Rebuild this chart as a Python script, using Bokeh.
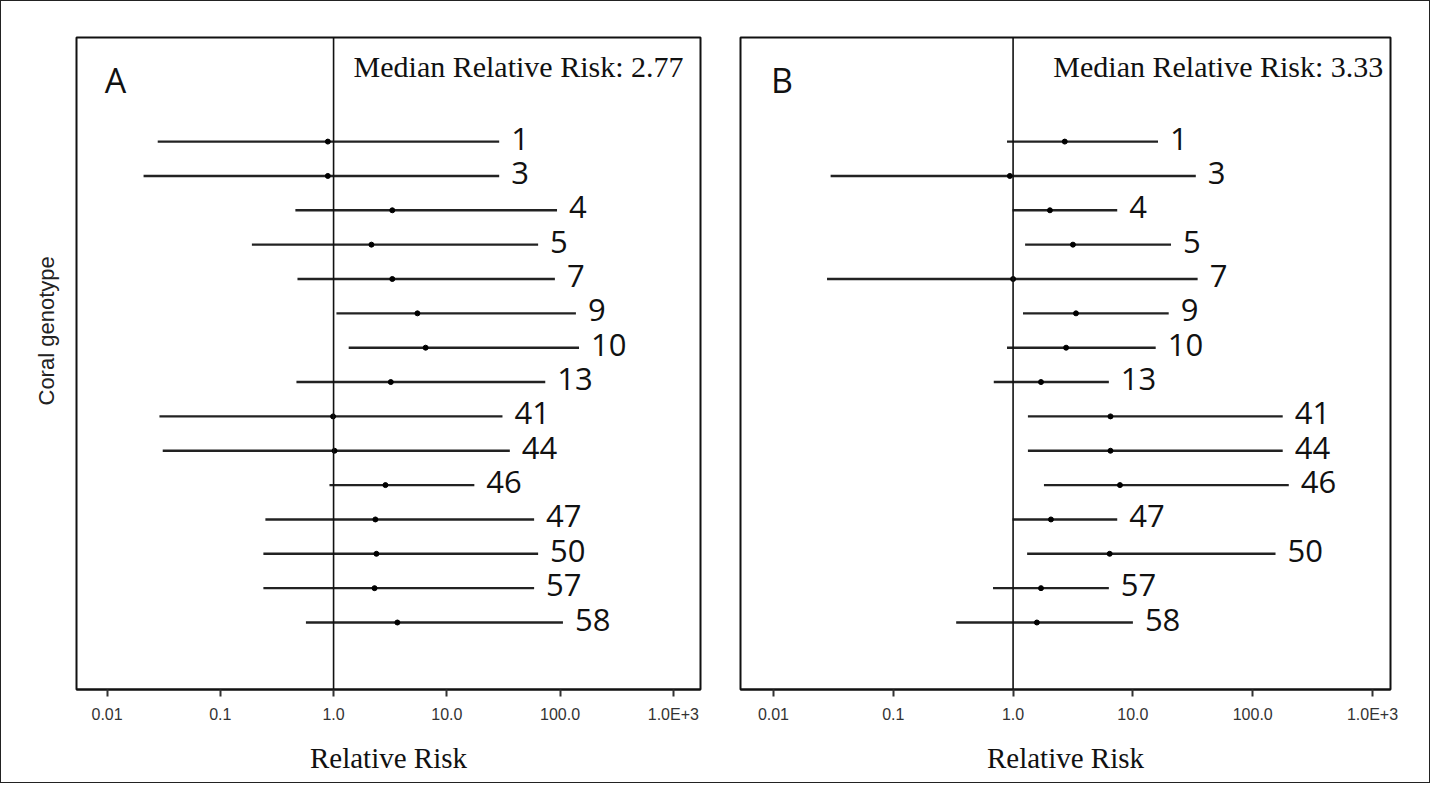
import math
from bokeh.plotting import figure
from bokeh.layouts import row
from bokeh.models import Range1d, FixedTicker, Span, ColumnDataSource, Label, Title
from bokeh.core.properties import value
from bokeh.embed import file_html
from bokeh.resources import INLINE

# ---------------- data ----------------
genotypes = ["1", "3", "4", "5", "7", "9", "10", "13", "41", "44", "46", "47", "50", "57", "58"]

a_rr = [0.89, 0.89, 3.3, 2.16, 3.3, 5.5, 6.5, 3.2, 0.99, 1.02, 2.87, 2.34, 2.39, 2.3, 3.66]
a_lo = [0.028, 0.021, 0.46, 0.19, 0.48, 1.06, 1.36, 0.47, 0.029, 0.031, 0.92, 0.25, 0.24, 0.24, 0.57]
a_hi = [29, 29, 94, 64, 90, 138, 147, 74, 31, 36, 17.5, 59, 64, 59, 106]

b_rr = [2.7, 0.94, 2.03, 3.16, 1.0, 3.35, 2.77, 1.71, 6.5, 6.5, 7.8, 2.07, 6.4, 1.71, 1.58]
b_lo = [0.89, 0.030, 0.99, 1.26, 0.028, 1.21, 0.89, 0.69, 1.33, 1.33, 1.81, 0.99, 1.31, 0.68, 0.335]
b_hi = [16.2, 33.5, 7.4, 20.8, 34.7, 19.9, 15.5, 6.3, 178, 178, 200, 7.4, 155, 6.3, 10]

tick_values = [0.01, 0.1, 1, 10, 100, 1000]
tick_labels = ["0.01", "0.1", "1.0", "10.0", "100.0", "1.0E+3"]

panel_letters = ["A", "B"]
median_rr = ["2.77", "3.33"]
y_title = "Coral genotype"
x_title = "Relative Risk"


def make_panel(letter, median, rr, lo, hi, x_start, x_end, width, mb_left, mb_right, show_ylabel):
    p = figure(
        width=width, height=781,
        x_axis_type="log",
        x_range=Range1d(x_start, x_end),
        y_range=Range1d(15.95, -3.03),
        output_backend="svg", toolbar_location=None,
        min_border_left=mb_left, min_border_right=mb_right,
        min_border_top=36, min_border_bottom=93,
    )
    p.background_fill_color = "white"
    p.border_fill_color = "white"
    p.outline_line_color = "#111111"
    p.outline_line_width = 2
    p.xgrid.visible = False
    p.ygrid.visible = False

    ys = list(range(len(genotypes)))
    src = ColumnDataSource(dict(y=ys, rr=rr, lo=lo, hi=hi, lab=genotypes))

    p.add_layout(Span(location=1, dimension="height", line_color="#111111", line_width=1.6))

    p.segment(x0="lo", y0="y", x1="hi", y1="y", source=src, line_color="#222222", line_width=2.4)
    p.scatter(x="rr", y="y", source=src, size=5, color="#000000")
    p.text(x="hi", y="y", text="lab", source=src, x_offset=12, y_offset=-3,
           text_font=value("Open Sans"), text_font_size="31px",
           text_baseline="middle", text_align="left", text_color="#111111")

    # x axis
    ax = p.xaxis[0]
    ax.ticker = FixedTicker(ticks=tick_values)
    ax.major_label_overrides = {v: l for v, l in zip(tick_values, tick_labels)}
    ax.minor_tick_line_color = None
    ax.major_tick_out = 7
    ax.major_tick_in = 0
    ax.major_tick_line_width = 2
    ax.major_tick_line_color = "#333333"
    ax.axis_line_width = 2
    ax.axis_line_color = "#111111"
    ax.major_label_text_font = "Liberation Sans"
    ax.major_label_text_font_size = "16px"
    ax.major_label_text_color = "#333333"
    ax.major_label_standoff = 9
    ax.axis_label = x_title
    ax.axis_label_text_font = "Liberation Serif"
    ax.axis_label_text_font_size = "29px"
    ax.axis_label_text_font_style = "normal"
    ax.axis_label_text_color = "#111111"
    ax.axis_label_standoff = 16

    p.yaxis.visible = False

    if show_ylabel:
        p.add_layout(Title(text=y_title, align="left", offset=284, standoff=36,
                           text_font="Liberation Sans", text_font_size="22px",
                           text_font_style="normal", text_color="#222222"), "left")

    # panel letter and median text
    p.add_layout(Label(x=10 ** -2.02, y=-1.78, text=letter, text_font="Open Sans",
                       text_font_size="34px", text_baseline="middle", text_align="left",
                       text_color="#111111"))
    p.add_layout(Label(x=10 ** 3.09, y=-2.2, text="Median Relative Risk: " + median,
                       text_font="Liberation Serif", text_font_size="30px",
                       text_baseline="middle", text_align="right", text_color="#111111"))
    return p


pa = make_panel(panel_letters[0], median_rr[0], a_rr, a_lo, a_hi,
                10 ** -2.27, 10 ** 3.24, 719, 75, 20, True)
pb = make_panel(panel_letters[1], median_rr[1], b_rr, b_lo, b_hi,
                10 ** -2.275, 10 ** 3.15, 709, 20, 39, False)

layout = row(pa, pb, styles={"border": "1px solid #222222"})

open("out.html", "w").write(file_html(layout, INLINE))
